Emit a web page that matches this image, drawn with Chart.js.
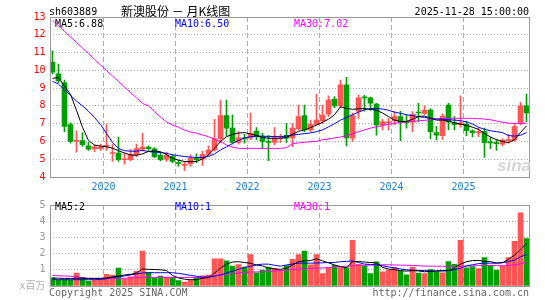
<!DOCTYPE html>
<html>
<head>
<meta charset="utf-8">
<script src="https://cdn.jsdelivr.net/npm/chart.js@4.4.0/dist/chart.umd.min.js"></script>
<style>
  body { margin: 0; background: #fff; }
  #wrap { position: relative; width: 545px; height: 300px; overflow: hidden;
          font-family: 'DejaVu Sans Mono', monospace; font-size: 10px; line-height: 10px; }
  #wrap canvas { position: absolute; left: 0; }
  .txt { position: absolute; white-space: pre; }
  .cjk { font-family: 'Noto Sans CJK SC', sans-serif; font-size: 12px; line-height: 12px; }
</style>
</head>
<body>
<div id="wrap">
  <canvas id="cPrice" width="545" height="195" style="top:0"></canvas>
  <canvas id="cVol" width="545" height="105" style="top:195px"></canvas>

  <div class="txt" style="left:49px;top:7px">sh603889</div>
  <div class="txt cjk" style="left:121px;top:5px">新澳股份 － 月K线图</div>
  <div class="txt" style="right:16px;top:7px">2025-11-28 15:00:00</div>

  <div class="txt" style="left:55px;top:19px;color:#000">MA5:6.88</div>
  <div class="txt" style="left:175px;top:19px;color:#0000ff">MA10:6.50</div>
  <div class="txt" style="left:294px;top:19px;color:#ff00ff">MA30:7.02</div>

  <div class="txt" style="left:497px;top:156px;font:italic bold 17px 'Liberation Sans',sans-serif;color:#d6d6d6">sina</div>

  <div class="txt" style="left:55px;top:202px;color:#000">MA5:2</div>
  <div class="txt" style="left:175px;top:202px;color:#0000ff">MA10:1</div>
  <div class="txt" style="left:294px;top:202px;color:#ff00ff">MA30:1</div>

  <div class="txt" style="left:49px;top:288px;color:#666">Copyright 2025 SINA.COM</div>
  <div class="txt" style="right:16px;top:288px;color:#666">http://finance.sina.com.cn</div>
</div>

<script>
// ==================== Dados ====================
const months = [
  '2019-04','2019-05','2019-06','2019-07','2019-08','2019-09','2019-10','2019-11','2019-12',
  '2020-01','2020-02','2020-03','2020-04','2020-05','2020-06','2020-07','2020-08','2020-09','2020-10','2020-11','2020-12',
  '2021-01','2021-02','2021-03','2021-04','2021-05','2021-06','2021-07','2021-08','2021-09','2021-10','2021-11','2021-12',
  '2022-01','2022-02','2022-03','2022-04','2022-05','2022-06','2022-07','2022-08','2022-09','2022-10','2022-11','2022-12',
  '2023-01','2023-02','2023-03','2023-04','2023-05','2023-06','2023-07','2023-08','2023-09','2023-10','2023-11','2023-12',
  '2024-01','2024-02','2024-03','2024-04','2024-05','2024-06','2024-07','2024-08','2024-09','2024-10','2024-11','2024-12',
  '2025-01','2025-02','2025-03','2025-04','2025-05','2025-06','2025-07','2025-08','2025-09','2025-10','2025-11'
];

const opens = [
  10.45, 9.8, 9.3, 6.95, 6.0, 6.05, 5.75, 5.58, 5.6,
  5.72, 5.32, 5.35, 4.97, 4.98, 5.25, 5.57, 5.68, 5.58, 5.22, 5.0, 5.15,
  4.8, 4.65, 4.73, 5.05, 5.0, 5.28, 5.52, 6.15, 7.45, 6.75, 5.95, 6.2,
  6.18, 6.58, 6.27, 6.0, 5.95, 6.15, 6.35, 6.2, 6.7, 7.45, 6.65, 6.96,
  7.15, 7.53, 8.37, 8.0, 9.18, 6.18, 7.7, 8.5, 8.45, 8.1, 6.93, 7.05,
  7.15, 7.4, 7.15, 7.08, 7.63, 7.58, 7.77, 6.5, 6.33, 8.05, 7.05, 6.95,
  6.96, 6.6, 6.48, 6.55, 5.95, 5.93, 5.84, 6.05, 6.08, 7.02, 8.0
];
const highs = [
  11.1, 10.35, 9.45, 7.05, 6.6, 6.5, 5.95, 5.8, 5.85,
  6.95, 5.85, 6.25, 5.35, 5.55, 5.85, 6.45, 5.75, 5.65, 5.4, 5.4, 5.25,
  4.95, 4.87, 5.25, 5.3, 5.45, 5.75, 7.25, 8.32, 8.33, 7.5, 6.55, 6.4,
  7.6, 6.78, 6.45, 6.35, 6.78, 6.4, 7.0, 7.0, 8.05, 8.05, 7.2, 8.67,
  8.05, 8.56, 8.52, 9.45, 9.6, 7.6, 8.62, 8.6, 8.5, 8.15, 7.25, 7.3,
  7.68, 7.7, 7.5, 7.68, 8.15, 8.0, 7.85, 6.85, 7.55, 8.15, 7.4, 8.56,
  7.15, 6.65, 6.75, 6.75, 6.25, 6.1, 6.15, 6.4, 7.0, 8.2, 8.67
];
const lows = [
  9.8, 9.3, 6.55, 5.9, 5.4, 5.72, 5.5, 5.43, 5.5,
  5.5, 4.88, 4.87, 4.72, 4.9, 5.15, 5.45, 5.5, 5.08, 4.9, 4.88, 4.8,
  4.6, 4.35, 4.6, 4.8, 4.65, 5.2, 5.45, 5.95, 6.3, 5.9, 5.85, 5.9,
  6.1, 6.1, 5.62, 4.92, 5.8, 5.95, 5.95, 5.7, 6.65, 6.55, 6.55, 6.9,
  7.0, 7.4, 7.9, 7.9, 5.75, 6.0, 7.3, 7.7, 7.75, 6.35, 6.65, 6.65,
  6.95, 6.05, 6.75, 6.55, 7.1, 7.5, 6.14, 6.08, 6.1, 6.65, 6.65, 6.8,
  6.33, 6.25, 6.27, 5.1, 5.6, 5.5, 5.75, 5.9, 6.0, 6.95, 7.11
];
const closes = [
  9.9, 9.4, 6.85, 6.0, 6.05, 5.82, 5.57, 5.7, 5.68,
  5.78, 5.36, 4.98, 5.02, 5.28, 5.6, 5.68, 5.6, 5.15, 4.97, 5.22, 4.88,
  4.75, 4.7, 5.05, 4.97, 5.28, 5.52, 6.15, 7.45, 6.75, 5.95, 6.2, 6.15,
  6.45, 6.27, 6.0, 5.95, 6.2, 6.18, 6.18, 6.75, 7.4, 6.65, 6.96, 7.2,
  7.49, 8.33, 8.0, 9.18, 6.2, 7.45, 8.46, 8.45, 8.15, 6.93, 7.1, 7.1,
  7.4, 7.08, 7.05, 7.53, 7.6, 7.77, 6.55, 6.35, 7.42, 7.1, 6.95, 7.05,
  6.6, 6.5, 6.52, 5.93, 5.92, 5.88, 6.08, 6.1, 6.83, 8.0, 7.6
];

const ma5 = [
  9.55, 9.6, 9.1, 8.65, 7.75, 6.8, 6.05, 5.8, 5.74,
  5.7, 5.62, 5.48, 5.35, 5.24, 5.22, 5.3, 5.44, 5.47, 5.42, 5.26, 5.05,
  4.95, 4.87, 4.86, 4.87, 5.02, 5.25, 5.6, 6.0, 6.27, 6.4, 6.47, 6.5,
  6.42, 6.33, 6.23, 6.18, 6.18, 6.18, 6.22, 6.4, 6.57, 6.65, 6.78, 6.92,
  7.08, 7.25, 7.5, 7.95, 7.86, 7.81, 7.83, 7.85, 7.81, 7.75, 7.6, 7.4,
  7.2, 7.12, 7.12, 7.25, 7.4, 7.43, 7.3, 7.2, 7.2, 7.13, 7.05, 6.98,
  6.9, 6.8, 6.68, 6.45, 6.25, 6.1, 6.0, 5.93, 6.1, 6.5, 6.88
];
const ma10 = [
  9.38, 9.23, 8.9, 8.6, 8.27, 8.0, 7.7, 7.35, 6.95,
  6.45, 5.95, 5.6, 5.48, 5.45, 5.45, 5.5, 5.43, 5.4, 5.38, 5.33, 5.25,
  5.2, 5.15, 5.12, 5.1, 5.1, 5.15, 5.3, 5.52, 5.7, 5.88, 6.05, 6.2,
  6.27, 6.3, 6.3, 6.28, 6.28, 6.27, 6.3, 6.36, 6.4, 6.44, 6.48, 6.55,
  6.65, 6.82, 7.0, 7.2, 7.35, 7.5, 7.65, 7.78, 7.85, 7.85, 7.82, 7.75,
  7.65, 7.58, 7.5, 7.45, 7.4, 7.35, 7.3, 7.27, 7.25, 7.22, 7.2, 7.17,
  7.1, 6.98, 6.8, 6.68, 6.6, 6.55, 6.5, 6.33, 6.3, 6.35, 6.5
];
const ma30 = [
  12.82, 12.5, 12.19, 11.88, 11.57, 11.25, 10.94, 10.62, 10.3,
  9.99, 9.68, 9.37, 9.06, 8.76, 8.45, 8.14, 8.0, 7.68, 7.37, 7.1, 6.92,
  6.8, 6.64, 6.53, 6.46, 6.36, 6.27, 6.13, 5.99, 5.8, 5.67, 5.61, 5.61,
  5.61, 5.61, 5.61, 5.61, 5.61, 5.61, 5.65, 5.88, 5.92, 5.95, 5.98, 6.0,
  6.1, 6.14, 6.2, 6.25, 6.32, 6.42, 6.55, 6.65, 6.75, 6.83, 6.9, 6.97,
  7.02, 7.06, 7.1, 7.13, 7.16, 7.19, 7.22, 7.25, 7.28, 7.3, 7.3, 7.3,
  7.3, 7.3, 7.28, 7.26, 7.22, 7.15, 7.08, 7.02, 7.02, 7.0, 7.02
];

// volume em milhoes (x百万)
const volumes = [
  0.51, 0.37, 0.39, 0.36, 0.8, 0.53, 0.31, 0.38, 0.38,
  0.72, 0.67, 1.1, 0.44, 0.57, 0.9, 2.15, 0.84, 0.49, 0.62, 0.55, 0.53,
  0.33, 0.24, 0.37, 0.53, 0.63, 0.67, 1.67, 1.67, 1.55, 1.23, 1.32, 1.17,
  1.94, 0.82, 0.98, 1.17, 1.09, 0.99, 1.26, 1.65, 1.94, 2.16, 1.3, 1.94,
  0.76, 1.14, 1.27, 1.14, 1.12, 2.82, 1.33, 1.24, 0.76, 1.49, 0.87, 0.98,
  1.14, 0.92, 0.69, 1.17, 0.8, 0.76, 1.01, 0.88, 0.82, 1.51, 1.33, 2.82,
  1.12, 1.2, 1.08, 1.76, 1.27, 0.98, 1.22, 1.76, 2.75, 4.51, 2.93
];
const vma5 = [
  0.49, 0.48, 0.47, 0.47, 0.48, 0.48, 0.47, 0.47, 0.47,
  0.5, 0.56, 0.62, 0.68, 0.72, 0.8, 1.05, 1.03, 1.02, 1.0, 0.96, 0.65,
  0.5, 0.42, 0.39, 0.39, 0.48, 0.52, 0.8, 1.1, 1.35, 1.48, 1.5, 1.45,
  1.4, 1.3, 1.24, 1.1, 1.05, 1.03, 1.1, 1.3, 1.5, 1.55, 1.57, 1.68,
  1.55, 1.43, 1.3, 1.2, 1.12, 1.5, 1.51, 1.48, 1.45, 1.43, 1.15, 1.05,
  1.0, 0.95, 0.92, 0.95, 0.93, 0.88, 0.9, 0.93, 0.96, 0.96, 1.1, 1.35,
  1.5, 1.57, 1.58, 1.52, 1.5, 1.42, 1.43, 1.65, 1.9, 2.25, 2.62
];
const vma10 = [
  0.39, 0.39, 0.39, 0.39, 0.39, 0.39, 0.39, 0.39, 0.4,
  0.45, 0.52, 0.57, 0.62, 0.68, 0.75, 0.8, 0.82, 0.82, 0.82, 0.82, 0.82,
  0.78, 0.72, 0.66, 0.6, 0.54, 0.55, 0.6, 0.68, 0.8, 0.92, 1.02, 1.15,
  1.22, 1.3, 1.35, 1.35, 1.28, 1.22, 1.3, 1.36, 1.41, 1.41, 1.41, 1.42,
  1.43, 1.45, 1.45, 1.5, 1.52, 1.55, 1.45, 1.35, 1.33, 1.32, 1.25, 1.18,
  1.12, 1.05, 1.0, 0.98, 0.96, 0.95, 0.93, 0.92, 0.92, 0.95, 1.0, 1.1,
  1.25, 1.31, 1.38, 1.41, 1.41, 1.41, 1.45, 1.5, 1.6, 1.8, 1.95
];
const vma30 = [
  0.65, 0.63, 0.62, 0.6, 0.59, 0.5, 0.47, 0.47, 0.47,
  0.47, 0.47, 0.47, 0.48, 0.5, 0.52, 0.53, 0.53, 0.53, 0.53, 0.53, 0.53,
  0.53, 0.53, 0.53, 0.53, 0.56, 0.6, 0.63, 0.68, 0.72, 0.76, 0.8, 0.84,
  0.86, 0.87, 0.88, 0.9, 0.92, 0.95, 0.98, 1.02, 1.04, 1.06, 1.08, 1.1,
  1.12, 1.14, 1.16, 1.2, 1.22, 1.25, 1.27, 1.28, 1.29, 1.3, 1.31, 1.31,
  1.3, 1.29, 1.28, 1.27, 1.25, 1.23, 1.22, 1.22, 1.22, 1.22, 1.22, 1.22,
  1.23, 1.24, 1.26, 1.27, 1.27, 1.26, 1.25, 1.26, 1.3, 1.37, 1.45
];

// ==================== Estilo ====================
const RED = '#ff5555';
const GREEN = '#00a000';
const GRID = '#aaaaaa';
const FONT = { family: "'DejaVu Sans Mono', 'Noto Sans CJK SC', monospace", size: 10 };

Chart.defaults.font.family = FONT.family;
Chart.defaults.font.size = FONT.size;

function candleColors() {
  return closes.map((c, i) => (c >= opens[i] ? RED : GREEN));
}

function isYearStart(index) {
  return (months[index] || '').endsWith('-01');
}

function maLine(data, color) {
  return { type: 'line', data, borderColor: color, borderWidth: 1, pointRadius: 0, tension: 0, order: 0 };
}

// moldura cinza em volta da area do grafico
const framePlugin = {
  id: 'frame',
  afterDraw(chart) {
    const { ctx, chartArea: a } = chart;
    const x0 = Math.ceil(a.left), x1 = Math.floor(a.right);
    const y0 = Math.round(a.top), y1 = Math.round(a.bottom);
    ctx.save();
    ctx.strokeStyle = '#999';
    ctx.lineWidth = 1;
    ctx.strokeRect(x0 + 0.5, y0 + 0.5, x1 - x0, y1 - y0);
    ctx.restore();
  }
};

function xScale(showYears, height) {
  return {
    afterFit: s => { s.height = height; },
    grid: { color: ctx => (isYearStart(ctx.index) ? GRID : 'rgba(0,0,0,0)'), drawTicks: false, offset: true },
    border: { display: false, dash: [5, 3] },
    ticks: {
      display: showYears, autoSkip: false, maxRotation: 0, padding: 4, labelOffset: -3,
      color: '#1a80d0', font: FONT,
      callback: (v, i) => (isYearStart(i) ? months[i].slice(0, 4) : '')
    }
  };
}

// ==================== Grafico de precos ====================
function renderPreco() {
  const colors = candleColors();
  new Chart(document.getElementById('cPrice'), {
    type: 'bar',
    data: {
      labels: months,
      datasets: [
        maLine(ma5, '#000000'),
        maLine(ma10, '#0000ff'),
        maLine(ma30, '#ff00ff'),
        { data: months.map((m, i) => [opens[i], closes[i]]), backgroundColor: colors,
          barThickness: 5, minBarLength: 1, grouped: false, order: 1 },
        { data: months.map((m, i) => [lows[i], highs[i]]), backgroundColor: colors,
          barThickness: 1, grouped: false, order: 2 }
      ]
    },
    options: {
      responsive: false, animation: false, devicePixelRatio: 1,
      layout: { padding: { top: 17, right: 15.5, left: 0, bottom: 0 } },
      plugins: { legend: { display: false }, tooltip: { enabled: false } },
      scales: {
        x: xScale(true, 18),
        y: {
          min: 4, max: 13,
          afterFit: s => { s.width = 49.5; },
          ticks: { stepSize: 1, padding: 4, color: '#ff0000', font: FONT },
          grid: { color: GRID, drawTicks: false },
          border: { display: false, dash: [1, 2] }
        }
      }
    },
    plugins: [framePlugin]
  });
}

// ==================== Grafico de volume ====================
function renderVolume() {
  const colors = candleColors();
  new Chart(document.getElementById('cVol'), {
    type: 'bar',
    data: {
      labels: months,
      datasets: [
        maLine(vma5, '#000000'),
        maLine(vma10, '#0000ff'),
        maLine(vma30, '#ff00ff'),
        { data: volumes, backgroundColor: colors, barThickness: 5, grouped: false, order: 1 }
      ]
    },
    options: {
      responsive: false, animation: false, devicePixelRatio: 1,
      layout: { padding: { top: 6, right: 15.5, left: 0, bottom: 0 } },
      plugins: { legend: { display: false }, tooltip: { enabled: false } },
      scales: {
        x: xScale(false, 14),
        y: {
          min: 0, max: 5,
          afterFit: s => { s.width = 49.5; },
          ticks: {
            stepSize: 1, padding: 4, font: FONT,
            color: ctx => (ctx.tick && ctx.tick.value === 0 ? '#b0b0b0' : '#999999'),
            callback: v => (v === 0 ? 'x百万' : v)
          },
          grid: { color: GRID, drawTicks: false },
          border: { display: false, dash: [1, 2] }
        }
      }
    },
    plugins: [framePlugin]
  });
}

// ==================== Init ====================
window.addEventListener('load', () => {
  renderPreco();
  renderVolume();
});
</script>
</body>
</html>
